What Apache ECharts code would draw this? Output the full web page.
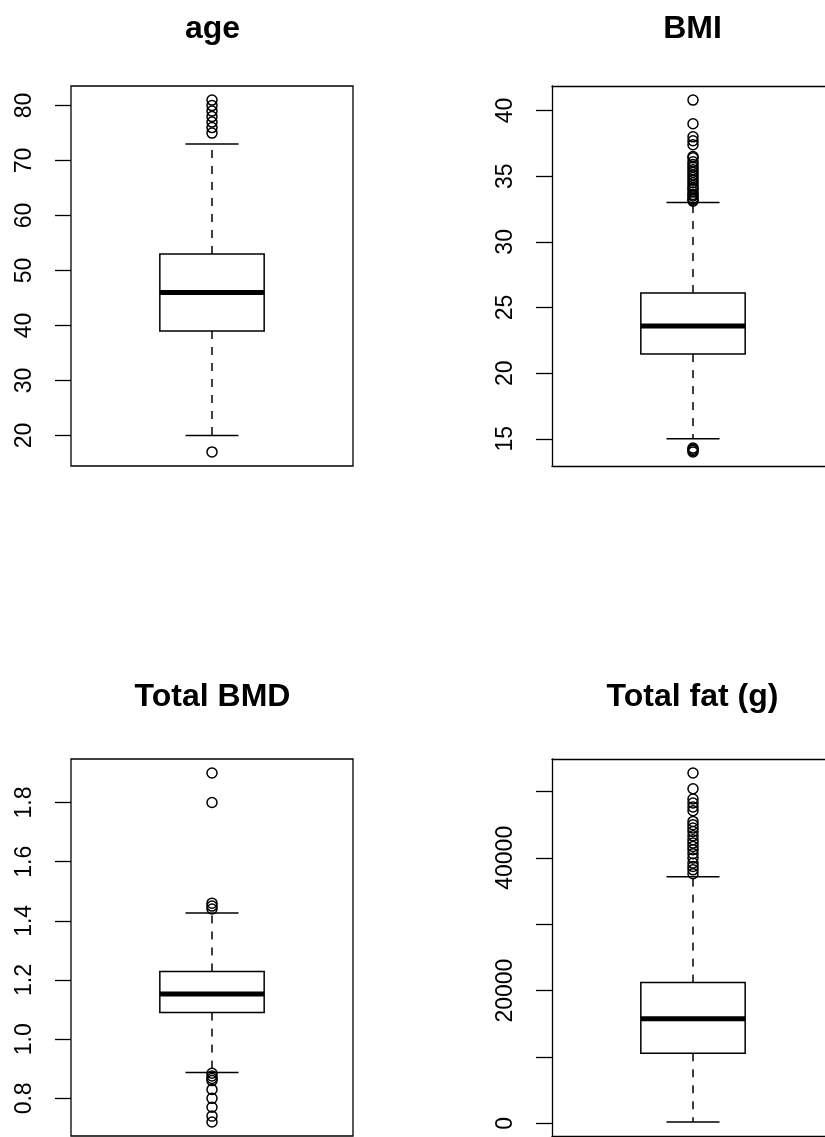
<!DOCTYPE html>
<html>
<head>
<meta charset="utf-8">
<script src="https://cdn.jsdelivr.net/npm/echarts@6/dist/echarts.min.js"></script>
<style>
  html, body { margin: 0; padding: 0; background: #fff; }
  #chartingArea { width: 825px; height: 1137px; }
</style>
</head>
<body>
<div id="chartingArea"></div>
<script>
// panel titles
const titles = ['age', 'BMI', 'Total BMD', 'Total fat (g)'];

// box stats: [lower whisker, Q1, median, Q3, upper whisker]
const ageStats = [20, 39, 46, 53, 73];
const bmiStats = [15.0, 21.45, 23.6, 26.1, 33.0];
const bmdStats = [0.8875, 1.09, 1.153, 1.229, 1.427];
const fatStats = [200, 10550, 15770, 21200, 37140];

// outliers
const ageOutliers = [17, 75, 76, 77, 78, 79, 80, 81];
const bmiOutliers = [14.0, 14.1, 14.2, 14.3,
  33.1, 33.2, 33.3, 33.5, 33.6, 33.8, 34.0, 34.1, 34.3, 34.5, 34.7, 34.9,
  35.1, 35.3, 35.5, 35.7, 35.9, 36.1, 36.4, 36.5, 37.4, 37.7, 38.0, 39.0, 40.8];
const bmdOutliers = [0.72, 0.74, 0.77, 0.80, 0.83, 0.86, 0.867, 0.876, 0.885,
  1.44, 1.45, 1.46, 1.80, 1.90];
const fatOutliers = [37590, 38190, 38690, 39200, 39960, 40610, 41210, 41710,
  42220, 42720, 43320, 43970, 44480, 44980, 45480, 47090, 47650, 48250,
  48850, 50410, 52780];

// tick values
const ageTicks = [20, 30, 40, 50, 60, 70, 80];
const bmiTicks = [15, 20, 25, 30, 35, 40];
const bmdTicks = [0.8, 1.0, 1.2, 1.4, 1.6, 1.8];
const fatTicks = [0, 10000, 20000, 30000, 40000, 50000];
const fatLabels = [0, 20000, 40000];

const panels = [
  { stats: ageStats, out: ageOutliers, ticks: ageTicks, labels: ageTicks, fmt: v => String(v) },
  { stats: bmiStats, out: bmiOutliers, ticks: bmiTicks, labels: bmiTicks, fmt: v => String(v) },
  { stats: bmdStats, out: bmdOutliers, ticks: bmdTicks, labels: bmdTicks, fmt: v => Number(v).toFixed(1) },
  { stats: fatStats, out: fatOutliers, ticks: fatTicks, labels: fatLabels, fmt: v => String(Math.round(v)) }
];

// plot regions are 282px wide; the right column runs past the page edge
const PLOT_W = 282;
const gridPos = [
  { left: 71, top: 86, width: 282, height: 380, cut: false },
  { left: 552, top: 86, width: 320, height: 380, cut: true },
  { left: 71, top: 759, width: 282, height: 377, cut: false },
  { left: 552, top: 759, width: 320, height: 377, cut: true }
];
const titlePos = [
  { left: 212.5, top: 13 },
  { left: 692.5, top: 13 },
  { left: 212.5, top: 681 },
  { left: 692.5, top: 681 }
];

const FONT = '"Liberation Sans", Arial, Helvetica, sans-serif';
const frameLine = { show: true, onZero: false, lineStyle: { color: '#000', width: 1.3 } };
const noLine = { show: false, onZero: false };

function renderBox(params, api) {
  const x = api.value(0);
  const lo = api.coord([x, api.value(1)]);
  const q1 = api.coord([x, api.value(2)]);
  const md = api.coord([x, api.value(3)]);
  const q3 = api.coord([x, api.value(4)]);
  const hi = api.coord([x, api.value(5)]);
  const bl = api.coord([x - 0.185, 0])[0];
  const br = api.coord([x + 0.185, 0])[0];
  const cl = api.coord([x - 0.094, 0])[0];
  const cr = api.coord([x + 0.094, 0])[0];
  const cx = lo[0];
  const solid = { stroke: '#000', lineWidth: 1.5, fill: null };
  const dashed = { stroke: '#000', lineWidth: 1.5, lineDash: [8, 8] };
  return {
    type: 'group',
    children: [
      { type: 'line', shape: { x1: cx, y1: q3[1], x2: cx, y2: hi[1] }, style: dashed },
      { type: 'line', shape: { x1: cx, y1: q1[1], x2: cx, y2: lo[1] }, style: dashed },
      { type: 'line', shape: { x1: cl, y1: hi[1], x2: cr, y2: hi[1] }, style: solid },
      { type: 'line', shape: { x1: cl, y1: lo[1], x2: cr, y2: lo[1] }, style: solid },
      { type: 'rect', shape: { x: bl, y: q3[1], width: br - bl, height: q1[1] - q3[1] },
        style: { stroke: '#000', lineWidth: 1.5, fill: '#fff' } },
      { type: 'line', shape: { x1: bl, y1: md[1], x2: br, y2: md[1] },
        style: { stroke: '#000', lineWidth: 5 } }
    ]
  };
}

// x axes: one per panel (bottom frame edge), plus a top edge for the cut-off panels
const xAxes = [];
panels.forEach((p, i) => {
  const g = gridPos[i];
  xAxes.push({
    type: 'value', gridIndex: i, min: 0.5, max: 0.5 + g.width / PLOT_W, position: 'bottom',
    axisTick: { show: false }, axisLabel: { show: false }, splitLine: { show: false },
    axisLine: g.cut ? frameLine : noLine
  });
});
panels.forEach((p, i) => {
  const g = gridPos[i];
  if (g.cut) {
    xAxes.push({
      type: 'value', gridIndex: i, min: 0.5, max: 0.5 + g.width / PLOT_W, position: 'top',
      axisTick: { show: false }, axisLabel: { show: false }, splitLine: { show: false },
      axisLine: frameLine
    });
  }
});

const option = {
  animation: false,
  backgroundColor: '#fff',
  title: titles.map((t, i) => ({
    text: t,
    left: titlePos[i].left,
    top: titlePos[i].top,
    textAlign: 'center',
    padding: 0,
    textStyle: { fontFamily: FONT, fontSize: 32, fontWeight: 'bold', color: '#000' }
  })),
  grid: gridPos.map(g => ({
    left: g.left, top: g.top, width: g.width, height: g.height,
    show: !g.cut, borderColor: '#000', borderWidth: 1.3, backgroundColor: 'transparent',
    containLabel: false, outerBoundsMode: 'none'
  })),
  xAxis: xAxes,
  yAxis: panels.map((p, i) => {
    const all = p.stats.concat(p.out);
    const mn = Math.min(...all), mx = Math.max(...all);
    const pad = (mx - mn) * 0.04;
    return {
      type: 'value', gridIndex: i, min: mn - pad, max: mx + pad, position: 'left',
      splitLine: { show: false },
      axisLine: gridPos[i].cut ? frameLine : noLine,
      axisTick: { show: true, length: 16, customValues: p.ticks,
        lineStyle: { color: '#000', width: 1.3 } },
      axisLabel: { show: true, rotate: 90, margin: 35, customValues: p.labels,
        fontFamily: FONT, fontSize: 23, color: '#000', formatter: p.fmt }
    };
  }),
  series: panels.flatMap((p, i) => [
    {
      type: 'custom', xAxisIndex: i, yAxisIndex: i,
      renderItem: renderBox,
      encode: { x: 0, y: [1, 2, 3, 4, 5] },
      data: [[1].concat(p.stats)],
      silent: true
    },
    {
      type: 'scatter', xAxisIndex: i, yAxisIndex: i,
      symbol: 'circle', symbolSize: 10,
      itemStyle: { color: 'rgba(0,0,0,0)', borderColor: '#000', borderWidth: 1.5, opacity: 1 },
      data: p.out.map(v => [1, v]),
      silent: true, z: 3
    }
  ])
};

const myChart = echarts.init(document.getElementById('chartingArea'));
myChart.setOption(option);
</script>
</body>
</html>
